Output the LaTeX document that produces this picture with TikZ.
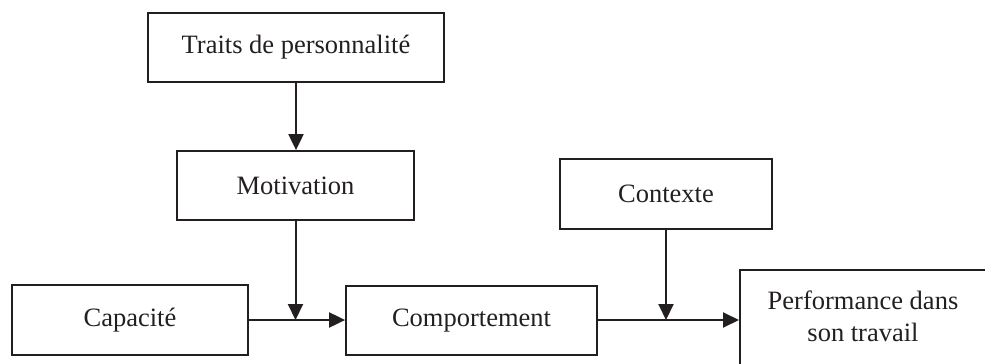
\documentclass[tikz,border=0pt]{standalone}
\usepackage{fontspec}
\setmainfont{Liberation Serif}
\usetikzlibrary{arrows.meta}
\definecolor{ink}{RGB}{35,31,32}
\begin{document}
\begin{tikzpicture}[x=1pt,y=-1pt,
  every node/.style={font=\fontsize{26.5}{32}\selectfont, text=ink},
  box/.style={draw=ink, line width=1.8pt, inner sep=0pt},
  arr/.style={draw=ink, line width=2pt, -{Triangle[length=16pt,width=15pt]}}]
  \useasboundingbox (0,0) rectangle (985,364);
  \clip (0,0) rectangle (985,364);
  % boxes
  \node[box, minimum width=296, minimum height=69] (traits) at (296,47.5) {Traits de personnalité};
  \node[box, minimum width=237, minimum height=69] (motiv) at (295.5,185.5) {Motivation};
  \node[box, minimum width=212, minimum height=70] (ctx) at (666,194) {Contexte};
  \node[box, minimum width=236, minimum height=70] (capa) at (130,320) {Capacité};
  \node[box, minimum width=251, minimum height=69] (comp) at (471.5,320.5) {Comportement};
  % last box runs past the right and bottom edges
  \node[box, anchor=north west, minimum width=250, minimum height=110] (perf) at (739,269) {};
  \node[align=center] (perftxt) at (863,316) {Performance dans\\son travail};
  % connectors
  \draw[arr] (traits.south) -- (traits.south |- motiv.north);
  \draw[arr] (capa.east |- 0,320) -- (comp.west |- 0,320);
  \draw[arr] (motiv.south) -- (motiv.south |- 0,320);
  \draw[arr] (comp.east |- 0,320) -- (perf.west |- 0,320);
  \draw[arr] (ctx.south) -- (ctx.south |- 0,320);
\end{tikzpicture}
\end{document}
